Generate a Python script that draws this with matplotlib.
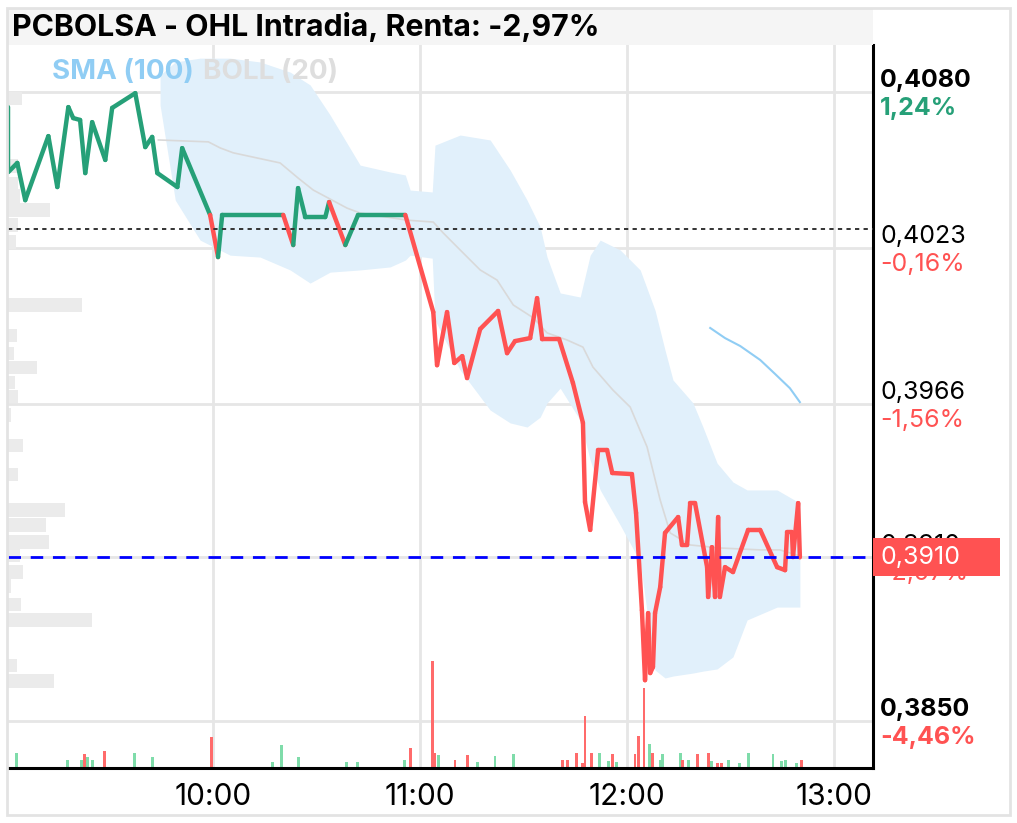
import matplotlib
matplotlib.use("Agg")
import matplotlib.pyplot as plt
from matplotlib.patches import Rectangle
from matplotlib.collections import LineCollection
from matplotlib.transforms import offset_copy
import numpy as np

plt.rcParams['font.family'] = ['Inter', 'DejaVu Sans']

# ---------------- data ----------------
title = "PCBOLSA - OHL Intradia, Renta: -2,97%"
prev_close = 0.4030
last_price = 0.3910

# price series: minutes after 09:00 and price
price_min = [0.6, 0.6, 3.2, 5.5, 12.2, 14.8, 18.0, 19.4, 21.4, 22.9, 24.9, 28.7, 30.7, 37.4,
             40.3, 42.3, 43.8, 49.6, 51.0, 59.1, 61.4, 62.6, 80.3, 83.2, 84.6, 86.7, 92.5,
             93.6, 98.3, 102.0, 115.7, 123.8, 124.9, 127.8, 129.9, 132.2, 133.6, 137.4,
             142.6, 145.2, 147.5, 151.9, 153.9, 155.4, 160.3, 164.3, 167.2, 167.8, 169.3,
             171.6, 174.2, 175.7, 181.4, 182.6, 184.3, 185.2, 186.1, 186.7, 187.5, 188.1,
             189.6, 191.0, 194.8, 195.9, 197.4, 198.3, 199.7, 203.2, 203.5, 204.6, 205.5,
             206.4, 206.9, 208.4, 210.7, 215.1, 218.6, 223.5, 225.8, 226.4, 227.8, 228.1,
             229.6, 230.1]
price_val = [0.40745, 0.40508, 0.40541, 0.40405, 0.40639, 0.40453, 0.40745, 0.40705, 0.40698,
             0.40504, 0.40690, 0.40552, 0.40742, 0.40796, 0.40599, 0.40636, 0.40504, 0.40453,
             0.40595, 0.40351, 0.40197, 0.40351, 0.40351, 0.40241, 0.40449, 0.40343, 0.40343,
             0.40398, 0.40241, 0.40351, 0.40351, 0.39996, 0.39802, 0.39996, 0.39810, 0.39835,
             0.39755, 0.39934, 0.40000, 0.39846, 0.39890, 0.39901, 0.40047, 0.39897, 0.39897,
             0.39737, 0.39591, 0.39302, 0.39200, 0.39492, 0.39492, 0.39408, 0.39404, 0.39262,
             0.38907, 0.38651, 0.38896, 0.38677, 0.38699, 0.38896, 0.38991, 0.39189, 0.39247,
             0.39145, 0.39145, 0.39298, 0.39298, 0.39064, 0.38955, 0.39137, 0.38955, 0.39247,
             0.38955, 0.39064, 0.39046, 0.39200, 0.39200, 0.39064, 0.39053, 0.39192, 0.39192,
             0.39101, 0.39298, 0.39100]

# Bollinger band (20)
band_min = [44.6, 49.0, 56.2, 64.9, 73.6, 82.3, 88.1, 93.9, 102.6, 111.3, 115.7, 117.1, 123.5,
            124.3, 131.6, 140.3, 146.1, 151.0, 154.8, 156.8, 160.6, 166.4, 169.3, 172.2, 178.0,
            183.8, 188.1, 191.0, 193.3, 199.1, 202.0, 206.1, 210.7, 214.8, 223.5, 230.1]
band_upper = [0.40862, 0.40910, 0.40924, 0.40924, 0.40910, 0.40873, 0.40826, 0.40716, 0.40533,
              0.40508, 0.40497, 0.40442, 0.40435, 0.40606, 0.40643, 0.40625, 0.40515, 0.40405,
              0.40307, 0.40197, 0.40066, 0.40051, 0.40204, 0.40259, 0.40223, 0.40150, 0.40003,
              0.39857, 0.39748, 0.39664, 0.39576, 0.39444, 0.39375, 0.39346, 0.39346, 0.39298]
band_lower = [0.40752, 0.40405, 0.40259, 0.40204, 0.40197, 0.40150, 0.40102, 0.40142, 0.40150,
              0.40161, 0.40186, 0.40204, 0.40193, 0.39967, 0.39784, 0.39638, 0.39591, 0.39576,
              0.39612, 0.39664, 0.39718, 0.39601, 0.39455, 0.39346, 0.39218, 0.39083, 0.38688,
              0.38659, 0.38666, 0.38677, 0.38684, 0.38692, 0.38736, 0.38871, 0.38918, 0.38918]
mid_min = [44.1, 58.6, 62.0, 65.8, 79.4, 84.6, 89.0, 98.8, 102.6, 116.2, 123.8, 126.7, 131.6,
           137.4, 142.3, 147.0, 152.8, 156.8, 162.6, 167.2, 170.1, 175.9, 180.9, 185.8, 189.6,
           192.5, 198.3, 207.0, 218.6, 224.3, 230.1]
mid_val = [0.40625, 0.40618, 0.40596, 0.40578, 0.40541, 0.40486, 0.40442, 0.40376, 0.40358,
           0.40332, 0.40325, 0.40285, 0.40223, 0.40150, 0.40113, 0.40022, 0.39975, 0.39920,
           0.39894, 0.39868, 0.39795, 0.39711, 0.39649, 0.39503, 0.39309, 0.39189, 0.39145,
           0.39134, 0.39127, 0.39127, 0.39105]

# SMA (100)
sma_min = [204.1, 208.4, 212.8, 218.6, 222.9, 227.2, 230.1]
sma_val = [0.39938, 0.39901, 0.39872, 0.39821, 0.39770, 0.39718, 0.39667]

# volume bars (minute, volume, up/down)
vol_min = [2.9, 17.7, 21.7, 22.6, 23.5, 24.9, 28.4, 37.1, 42.3, 59.4, 77.1, 79.7, 84.6, 98.6,
           101.7, 115.4, 117.1, 123.5, 124.3, 125.2, 130.1, 133.6, 136.5, 141.7, 147.2, 161.2,
           162.6, 165.2, 167.0, 167.8, 169.6, 171.9, 174.5, 175.7, 176.8, 182.3, 183.2, 184.9,
           186.4, 187.5, 189.6, 190.4, 195.4, 196.2, 197.7, 200.3, 203.5, 204.6, 206.1, 207.5,
           209.3, 212.5, 215.1, 222.3, 224.9, 225.8, 229.0, 230.7]
vol_val = [15, 8, 8, 14, 11, 8, 17, 15, 11, 31, 6, 23, 11, 6, 6, 8, 20, 107, 15, 13, 8, 13, 6,
           12, 14, 8, 8, 15, 5, 52, 15, 15, 7, 14, 6, 14, 32, 80, 24, 15, 8, 14, 15, 8, 8, 14,
           15, 7, 5, 5, 8, 5, 15, 14, 7, 8, 5, 8]
vol_up = [1, 1, 1, 0, 1, 1, 0, 1, 1, 0, 1, 1, 1, 1, 1, 1, 0, 0, 0, 1, 0, 0, 1, 1, 1, 0, 0, 0,
          0, 0, 0, 1, 1, 0, 1, 0, 0, 0, 1, 0, 1, 1, 1, 0, 1, 0, 0, 1, 0, 0, 1, 1, 1, 1, 1, 1,
          1, 0]

# volume-by-price profile
prof_price = [0.40778, 0.40530, 0.40464, 0.40420, 0.40369, 0.40314, 0.40252, 0.40022, 0.39912,
              0.39846, 0.39795, 0.39740, 0.39689, 0.39620, 0.39510, 0.39401, 0.39273, 0.39218,
              0.39156, 0.39105, 0.39046, 0.38995, 0.38929, 0.38871, 0.38706, 0.38648]
prof_vol = [14, 10, 10, 12, 42, 10, 8, 74, 9, 6, 29, 7, 10, 3, 15, 10, 57, 38, 41, 12, 15, 3,
            13, 84, 9, 46]

tick_prices = [0.4080, 0.4023, 0.3966, 0.3910, 0.3850]
tick_pcts = ["1,24%", "-0,16%", "-1,56%", "-2,97%", "-4,46%"]
tick_bold = [True, False, False, False, True]
time_ticks = [60, 120, 180, 240]
time_labels = ["10:00", "11:00", "12:00", "13:00"]

# ---------------- style ----------------
W, H = 1017, 823
GREEN = '#26a078'
RED = '#ff5252'
LBL = 18
fig = plt.figure(figsize=(W / 100, H / 100), dpi=100)
fig.patch.set_facecolor('white')

ax_l, ax_r, ax_t, ax_b = 8, 873, 45, 768
ax = fig.add_axes([ax_l / W, (H - ax_b) / H, (ax_r - ax_l) / W, (ax_b - ax_t) / H])
ax.set_xlim(0.5, 251.3)
ax.set_ylim(0.38330, 0.40972)
ax.set_facecolor('white')

# grid
for p in tick_prices:
    ax.axhline(p, color='#e6e6e6', lw=2, zorder=0.5)
for t in time_ticks:
    ax.axvline(t, color='#e6e6e6', lw=2, zorder=0.5)

# volume profile (x in axes fraction)
prof_scale = ax_r - ax_l
ax.barh(prof_price, [v / prof_scale for v in prof_vol], height=0.00048, left=0,
        color='#ebebeb', transform=ax.get_yaxis_transform(), zorder=1)

# bollinger band
ax.fill_between(band_min, band_lower, band_upper, color='#e1f0fb', lw=0, zorder=1.5)
ax.plot(mid_min, mid_val, color='#d9d9d9', lw=1.2, zorder=2.5)
ax.plot(sma_min, sma_val, color='#90cdf4', lw=1.5, zorder=2.5)

# volume bars (y in axes fraction)
vol_scale = ax_b - ax_t
ax.bar(vol_min, [v / vol_scale for v in vol_val], width=0.85, bottom=0,
       color=['#7fdcaa' if u else '#ff6b6b' for u in vol_up],
       transform=ax.get_xaxis_transform(), zorder=2)

# price line coloured by level vs previous close
pts = np.column_stack([price_min, price_val])
segs = np.stack([pts[:-1], pts[1:]], axis=1)
cols = [GREEN if v >= prev_close else RED for v in price_val[1:]]
ax.add_collection(LineCollection(segs, colors=cols, linewidths=3.2,
                                 capstyle='round', joinstyle='round', zorder=4))

# reference lines
ax.axhline(prev_close, color='#333333', lw=1.4, ls=(0, (2.2, 2.2)), zorder=5)
ax.axhline(last_price, color='#0000ff', lw=2, ls=(0, (4.5, 3.5)), zorder=5)

# axes styling
for s in ['left', 'top']:
    ax.spines[s].set_visible(False)
for s in ['right', 'bottom']:
    ax.spines[s].set_color('black')
    ax.spines[s].set_linewidth(2.2)
ax.set_yticks([])
ax.set_xticks(time_ticks)
ax.set_xticklabels(time_labels, fontsize=21.5)
ax.tick_params(axis='x', length=0, pad=11)

# right labels
trans_p = offset_copy(ax.get_yaxis_transform(), fig=fig, x=7, y=12, units='dots')
trans_c = offset_copy(ax.get_yaxis_transform(), fig=fig, x=7, y=-16, units='dots')
for p, pc, b in zip(tick_prices, tick_pcts, tick_bold):
    w = 'bold' if b else 'normal'
    ax.text(1.0, p, f"{p:.4f}".replace('.', ','), transform=trans_p, ha='left', va='center',
            fontsize=LBL, fontweight=w, color='black', clip_on=False)
    ax.text(1.0, p, pc, transform=trans_c, ha='left', va='center', fontsize=LBL,
            fontweight=w, color=GREEN if not pc.startswith('-') else RED, clip_on=False)

# current price box
fig.canvas.draw()
ypx = ax.transData.transform((0, last_price))[1]
fig.patches.append(Rectangle((ax_r / W, (ypx - 19) / H), (1000 - ax_r) / W, 38 / H,
                             transform=fig.transFigure, facecolor=RED, edgecolor='none',
                             zorder=10))
fig.text((ax_r + 7) / W, ypx / H, f"{last_price:.4f}".replace('.', ','), color='white',
         fontsize=LBL, ha='left', va='center', zorder=11)

# title box
fig.patches.append(Rectangle((ax_l / W, (H - ax_t) / H), (ax_r - ax_l) / W, (ax_t - 8) / H,
                             transform=fig.transFigure, facecolor='#f5f5f5', edgecolor='none',
                             zorder=0))
fig.text(12 / W, (H - 27) / H, title, fontsize=21.8, fontweight='bold', color='black',
         ha='left', va='center')

# legend texts
fig.text(52 / W, (H - 72) / H, "SMA (100)", fontsize=20, fontweight='bold', color='#90cdf4',
         ha='left', va='center')
fig.text(203 / W, (H - 72) / H, "BOLL (20)", fontsize=20, fontweight='bold', color='#dedede',
         ha='left', va='center')

# outer border
fig.patches.append(Rectangle((7 / W, (H - 815) / H), (1010 - 7) / W, (815 - 8) / H,
                             transform=fig.transFigure, facecolor='none', edgecolor='#e3e3e3',
                             lw=2, zorder=0))

fig.savefig('out.png', dpi=100)
